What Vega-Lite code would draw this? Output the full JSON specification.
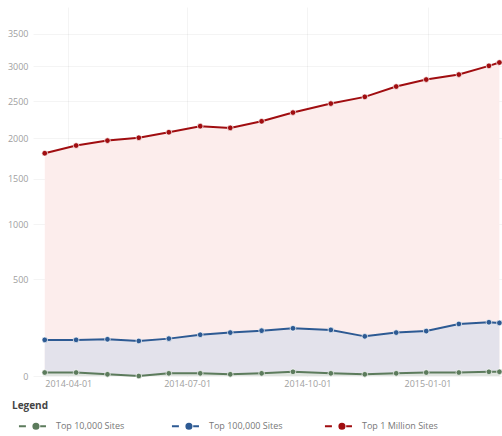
{
  "$schema": "https://vega.github.io/schema/vega-lite/v6.json",
  "width": 469,
  "height": 369,
  "autosize": {"type": "none"},
  "padding": {"left": 33, "top": 7, "right": 0, "bottom": 60},
  "background": "white",
  "config": {
    "font": "Open Sans",
    "view": {"stroke": null},
    "axis": {"domain": false, "ticks": false, "gridColor": "#000000", "gridOpacity": 0.045, "gridWidth": 1, "labelColor": "#a0a0a0", "labelFontSize": 9, "title": null, "zindex": 1}
  },
  "data": {
    "values": [
      {"date": "2014-03-14", "series": "Top 10,000 Sites", "value": 3},
      {"date": "2014-04-07", "series": "Top 10,000 Sites", "value": 3},
      {"date": "2014-05-01", "series": "Top 10,000 Sites", "value": 1},
      {"date": "2014-05-25", "series": "Top 10,000 Sites", "value": 0},
      {"date": "2014-06-17", "series": "Top 10,000 Sites", "value": 2},
      {"date": "2014-07-11", "series": "Top 10,000 Sites", "value": 2},
      {"date": "2014-08-03", "series": "Top 10,000 Sites", "value": 1},
      {"date": "2014-08-27", "series": "Top 10,000 Sites", "value": 2},
      {"date": "2014-09-20", "series": "Top 10,000 Sites", "value": 4},
      {"date": "2014-10-19", "series": "Top 10,000 Sites", "value": 2},
      {"date": "2014-11-14", "series": "Top 10,000 Sites", "value": 1},
      {"date": "2014-12-08", "series": "Top 10,000 Sites", "value": 2},
      {"date": "2014-12-31", "series": "Top 10,000 Sites", "value": 3},
      {"date": "2015-01-25", "series": "Top 10,000 Sites", "value": 3},
      {"date": "2015-02-17", "series": "Top 10,000 Sites", "value": 4},
      {"date": "2015-02-25", "series": "Top 10,000 Sites", "value": 4},
      {"date": "2014-03-14", "series": "Top 100,000 Sites", "value": 110},
      {"date": "2014-04-07", "series": "Top 100,000 Sites", "value": 110},
      {"date": "2014-05-01", "series": "Top 100,000 Sites", "value": 113},
      {"date": "2014-05-25", "series": "Top 100,000 Sites", "value": 105},
      {"date": "2014-06-17", "series": "Top 100,000 Sites", "value": 116},
      {"date": "2014-07-11", "series": "Top 100,000 Sites", "value": 135},
      {"date": "2014-08-03", "series": "Top 100,000 Sites", "value": 146},
      {"date": "2014-08-27", "series": "Top 100,000 Sites", "value": 156},
      {"date": "2014-09-20", "series": "Top 100,000 Sites", "value": 169},
      {"date": "2014-10-19", "series": "Top 100,000 Sites", "value": 160},
      {"date": "2014-11-14", "series": "Top 100,000 Sites", "value": 127},
      {"date": "2014-12-08", "series": "Top 100,000 Sites", "value": 146},
      {"date": "2014-12-31", "series": "Top 100,000 Sites", "value": 154},
      {"date": "2015-01-25", "series": "Top 100,000 Sites", "value": 193},
      {"date": "2015-02-17", "series": "Top 100,000 Sites", "value": 203},
      {"date": "2015-02-25", "series": "Top 100,000 Sites", "value": 199},
      {"date": "2014-03-14", "series": "Top 1 Million Sites", "value": 1808},
      {"date": "2014-04-07", "series": "Top 1 Million Sites", "value": 1905},
      {"date": "2014-05-01", "series": "Top 1 Million Sites", "value": 1968},
      {"date": "2014-05-25", "series": "Top 1 Million Sites", "value": 2005},
      {"date": "2014-06-17", "series": "Top 1 Million Sites", "value": 2077},
      {"date": "2014-07-11", "series": "Top 1 Million Sites", "value": 2157},
      {"date": "2014-08-03", "series": "Top 1 Million Sites", "value": 2134},
      {"date": "2014-08-27", "series": "Top 1 Million Sites", "value": 2222},
      {"date": "2014-09-20", "series": "Top 1 Million Sites", "value": 2340},
      {"date": "2014-10-19", "series": "Top 1 Million Sites", "value": 2464},
      {"date": "2014-11-14", "series": "Top 1 Million Sites", "value": 2558},
      {"date": "2014-12-08", "series": "Top 1 Million Sites", "value": 2705},
      {"date": "2014-12-31", "series": "Top 1 Million Sites", "value": 2806},
      {"date": "2015-01-25", "series": "Top 1 Million Sites", "value": 2879},
      {"date": "2015-02-17", "series": "Top 1 Million Sites", "value": 3008},
      {"date": "2015-02-25", "series": "Top 1 Million Sites", "value": 3058}
    ]
  },
  "encoding": {
    "x": {
      "field": "date",
      "type": "temporal",
      "scale": {"type": "utc", "domain": [{"year": 2014, "month": 3, "date": 5, "utc": true}, {"year": 2015, "month": 2, "date": 27, "utc": true}]},
      "axis": {
        "values": [{"year": 2014, "month": 4, "date": 1, "utc": true}, {"year": 2014, "month": 7, "date": 1, "utc": true}, {"year": 2014, "month": 10, "date": 1, "utc": true}, {"year": 2015, "month": 1, "date": 1, "utc": true}],
        "format": "%Y-%m-%d",
        "labelPadding": 3
      }
    },
    "y": {
      "field": "value",
      "type": "quantitative",
      "scale": {"type": "pow", "exponent": 0.65, "domain": [0, 3930], "nice": false},
      "axis": {"values": [0, 500, 1000, 1500, 2000, 2500, 3000, 3500], "format": "d", "labelPadding": 5}
    }
  },
  "layer": [
    {
      "transform": [{"filter": "datum.series === 'Top 1 Million Sites'"}],
      "mark": {"type": "area", "color": "#fcedec", "opacity": 1}
    },
    {
      "transform": [{"filter": "datum.series === 'Top 100,000 Sites'"}],
      "mark": {"type": "area", "color": "#e3e2eb", "opacity": 1}
    },
    {
      "transform": [{"filter": "datum.series === 'Top 10,000 Sites'"}],
      "mark": {"type": "area", "color": "#dfe4df", "opacity": 1}
    },
    {
      "mark": {"type": "line", "strokeWidth": 2},
      "encoding": {
        "color": {
          "field": "series",
          "type": "nominal",
          "scale": {"domain": ["Top 10,000 Sites", "Top 100,000 Sites", "Top 1 Million Sites"], "range": ["#5c7b5c", "#2d5a93", "#a00d10"]},
          "legend": {
            "title": "Legend",
            "orient": "none",
            "legendX": -21,
            "legendY": 394,
            "direction": "horizontal",
            "columns": 3,
            "gridAlign": "all",
            "columnPadding": 33,
            "padding": 0,
            "titleFontSize": 10,
            "titleFontWeight": "bold",
            "titleColor": "#444444",
            "titlePadding": -3,
            "labelFontSize": 9,
            "labelColor": "#777777",
            "labelOffset": 8,
            "symbolType": "M-0.65,0H-0.24M0.35,-0.15A0.15,0.15 0 1,1 0.35,0.15A0.15,0.15 0 1,1 0.35,-0.15M0.6,0H0.94",
            "symbolSize": 1156,
            "symbolStrokeWidth": 2,
            "encode": {
              "symbols": {"update": {"fill": {"scale": "color", "field": "value"}, "stroke": {"scale": "color", "field": "value"}, "strokeWidth": {"value": 2}}}
            }
          }
        }
      }
    },
    {
      "mark": {"type": "point", "filled": true, "size": 32, "stroke": "white", "strokeWidth": 0.7, "opacity": 1},
      "encoding": {
        "color": {"field": "series", "type": "nominal", "legend": null}
      }
    }
  ]
}
